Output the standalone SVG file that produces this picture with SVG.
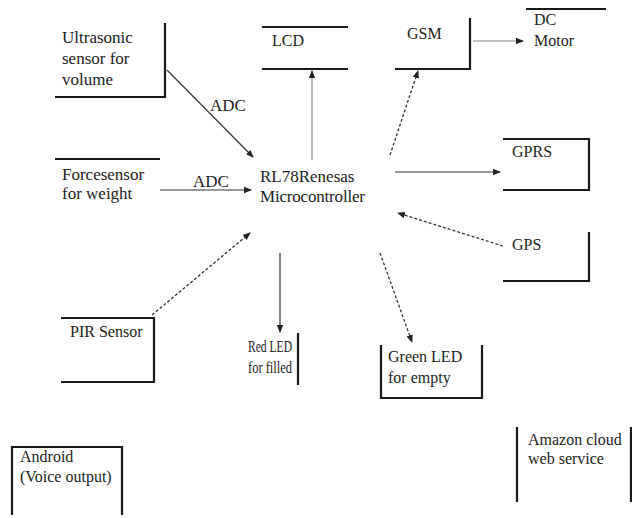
<svg xmlns="http://www.w3.org/2000/svg" width="632" height="518" viewBox="0 0 632 518">
<style>
text{font-family:"Liberation Serif","Times New Roman",serif;font-size:17px;fill:#222}
.s16{font-size:16px}
.b{stroke:#1a1a1a;stroke-width:2.2;fill:none}
.c{stroke:#333;stroke-width:1.2;fill:none}
.g{stroke:#888;stroke-width:1.2;fill:none}
.d{stroke:#333;stroke-width:1.3;fill:none;stroke-dasharray:3,2}
</style>
<defs>
<marker id="ah" markerWidth="8" markerHeight="8" refX="7" refY="4" orient="auto" markerUnits="userSpaceOnUse">
<path d="M0,0.8 L8,4 L0,7.2 Z" fill="#222"/>
</marker>
</defs>
<rect width="632" height="518" fill="#fff"/>
<g id="ultrasonic"><path class="b" d="M165,23 V97 H55"/><text x="62" y="43">Ultrasonic</text><text x="62" y="64">sensor for</text><text x="62" y="85">volume</text></g>
<g id="lcd"><path class="b" d="M262,27 H348 M262,69 H348"/><text class="s16" x="272" y="46">LCD</text></g>
<g id="gsm"><path class="b" d="M470,18 V69 H395"/><text class="s16" x="407" y="39">GSM</text></g>
<g id="dcmotor"><path class="b" d="M526,9 H606"/><text class="s16" x="534" y="25">DC</text><text class="s16" x="534" y="46">Motor</text></g>
<g id="forcesensor"><path class="b" d="M55,159 H160"/><text x="62" y="180">Forcesensor</text><text x="62" y="199">for weight</text></g>
<g id="micro"><text x="260" y="182">RL78Renesas</text><text x="260" y="202" textLength="105">Microcontroller</text></g>
<g id="gprs"><path class="b" d="M503,139 H589 V190 H503"/><text class="s16" x="512" y="157">GPRS</text></g>
<g id="gps"><path class="b" d="M589,232 V281 H503"/><text class="s16" x="512" y="250">GPS</text></g>
<g id="pir"><path class="b" d="M61,318 H154 V382 H61"/><text class="s16" x="70" y="337">PIR Sensor</text></g>
<g id="redled"><path class="b" d="M298,333 V385"/><text class="s16" x="248" y="352" textLength="44" lengthAdjust="spacingAndGlyphs">Red LED</text><text class="s16" x="248" y="373" textLength="44" lengthAdjust="spacingAndGlyphs">for filled</text></g>
<g id="greenled"><path class="b" d="M381,345 V398 H482 V345"/><text class="s16" x="388" y="362">Green LED</text><text class="s16" x="388" y="383">for empty</text></g>
<g id="android"><path class="b" d="M12,515 V447 H122 V515"/><text class="s16" x="20" y="462">Android</text><text class="s16" x="20" y="482">(Voice output)</text></g>
<g id="amazon"><path class="b" d="M517,427 V502 M631,427 V502"/><text class="s16" x="528" y="445">Amazon cloud</text><text class="s16" x="528" y="464">web service</text></g>
<g id="connectors">
<path class="c" d="M167,70 L253,157" marker-end="url(#ah)"/>
<text x="210" y="111">ADC</text>
<path class="c" d="M160,190 L251,190" marker-end="url(#ah)"/>
<text x="193" y="187">ADC</text>
<path class="g" d="M312,160 L312,71" marker-end="url(#ah)"/>
<path class="d" d="M390,155 L418,71" marker-end="url(#ah)"/>
<path class="g" d="M473,41 L523,41" marker-end="url(#ah)"/>
<path class="c" d="M395,172 L500,172" marker-end="url(#ah)"/>
<path class="d" d="M503,246 L398,213" marker-end="url(#ah)"/>
<path class="d" d="M152,315 L250,233" marker-end="url(#ah)"/>
<path class="c" d="M280,253 L280,332" marker-end="url(#ah)"/>
<path class="d" d="M380,253 L412,342" marker-end="url(#ah)"/>
</g>
</svg>
